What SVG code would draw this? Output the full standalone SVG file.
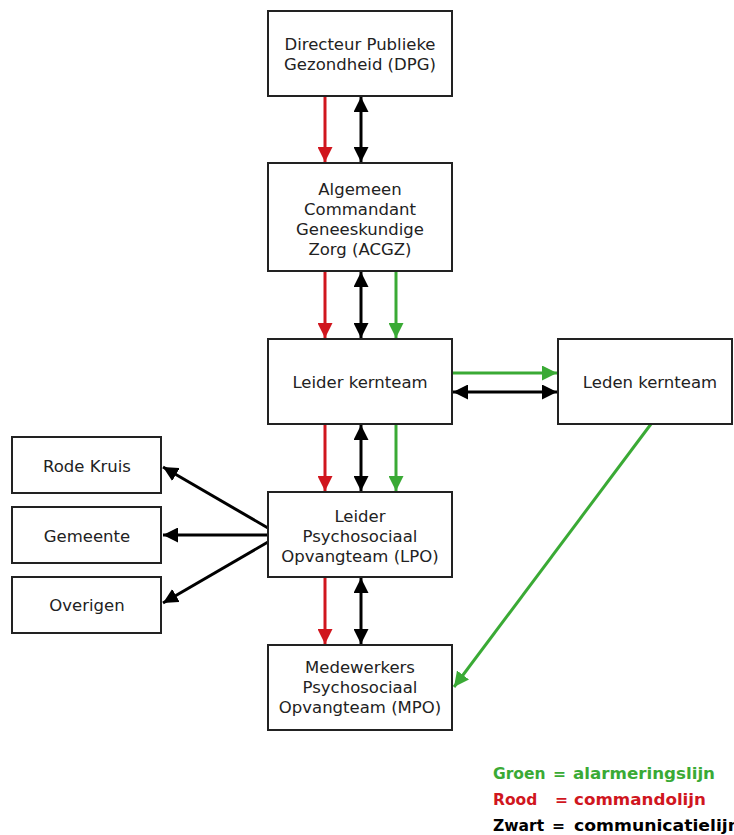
<svg xmlns="http://www.w3.org/2000/svg" width="734" height="835" viewBox="0 0 734 835">
<style>
.box{fill:#fff;stroke:#222;stroke-width:2}
.t{font-family:"DejaVu Sans",Verdana,sans-serif;font-size:16.5px;fill:#222;text-anchor:middle}
.r{stroke:#d0161e;stroke-width:3;fill:none}
.k{stroke:#000;stroke-width:3;fill:none}
.g{stroke:#3aaa35;stroke-width:3;fill:none}
.lg{font-family:"DejaVu Sans",Verdana,sans-serif;font-size:15.5px;font-weight:bold}
</style>
<defs>
<marker id="ar" viewBox="0 0 10 10" refX="10" refY="5" markerWidth="5" markerHeight="5" markerUnits="strokeWidth" orient="auto-start-reverse"><path d="M0,0L10,5L0,10z" fill="#d0161e"/></marker>
<marker id="ak" viewBox="0 0 10 10" refX="10" refY="5" markerWidth="5" markerHeight="5" markerUnits="strokeWidth" orient="auto-start-reverse"><path d="M0,0L10,5L0,10z" fill="#000"/></marker>
<marker id="ag" viewBox="0 0 10 10" refX="10" refY="5" markerWidth="5" markerHeight="5" markerUnits="strokeWidth" orient="auto-start-reverse"><path d="M0,0L10,5L0,10z" fill="#3aaa35"/></marker>
</defs>
<g id="connectors">
<line class="r" x1="325" y1="97" x2="325" y2="162" marker-end="url(#ar)"/>
<line class="k" x1="361" y1="97" x2="361" y2="162" marker-start="url(#ak)" marker-end="url(#ak)"/>
<line class="r" x1="325" y1="272" x2="325" y2="338" marker-end="url(#ar)"/>
<line class="k" x1="361" y1="272" x2="361" y2="338" marker-start="url(#ak)" marker-end="url(#ak)"/>
<line class="g" x1="396" y1="272" x2="396" y2="338" marker-end="url(#ag)"/>
<line class="g" x1="453" y1="373" x2="557" y2="373" marker-end="url(#ag)"/>
<line class="k" x1="453" y1="392" x2="557" y2="392" marker-start="url(#ak)" marker-end="url(#ak)"/>
<line class="r" x1="325" y1="425" x2="325" y2="491" marker-end="url(#ar)"/>
<line class="k" x1="361" y1="425" x2="361" y2="491" marker-start="url(#ak)" marker-end="url(#ak)"/>
<line class="g" x1="396" y1="425" x2="396" y2="491" marker-end="url(#ag)"/>
<line class="r" x1="325" y1="578" x2="325" y2="644" marker-end="url(#ar)"/>
<line class="k" x1="361" y1="578" x2="361" y2="644" marker-start="url(#ak)" marker-end="url(#ak)"/>
<line class="k" x1="268" y1="528" x2="163" y2="467" marker-end="url(#ak)"/>
<line class="k" x1="268" y1="535" x2="163" y2="535" marker-end="url(#ak)"/>
<line class="k" x1="268" y1="542" x2="163" y2="603" marker-end="url(#ak)"/>
<line class="g" x1="651" y1="424" x2="454" y2="687" marker-end="url(#ag)"/>
</g>
<g id="dpg"><rect class="box" x="268" y="11" width="184" height="85"/>
<text class="t" x="360" y="50">Directeur Publieke</text><text class="t" x="360" y="70">Gezondheid (DPG)</text></g>
<g id="acgz"><rect class="box" x="268" y="163" width="184" height="108"/>
<text class="t" x="360" y="195">Algemeen</text><text class="t" x="360" y="215">Commandant</text><text class="t" x="360" y="235">Geneeskundige</text><text class="t" x="360" y="255">Zorg (ACGZ)</text></g>
<g id="leider-kernteam"><rect class="box" x="268" y="339" width="184" height="85"/>
<text class="t" x="360" y="388">Leider kernteam</text></g>
<g id="leden-kernteam"><rect class="box" x="558" y="339" width="174" height="85"/>
<text class="t" x="650" y="388">Leden kernteam</text></g>
<g id="lpo"><rect class="box" x="268" y="492" width="184" height="85"/>
<text class="t" x="360" y="522">Leider</text><text class="t" x="360" y="542">Psychosociaal</text><text class="t" x="360" y="562">Opvangteam (LPO)</text></g>
<g id="mpo"><rect class="box" x="268" y="645" width="184" height="85"/>
<text class="t" x="360" y="673">Medewerkers</text><text class="t" x="360" y="693">Psychosociaal</text><text class="t" x="360" y="713">Opvangteam (MPO)</text></g>
<g id="rode-kruis"><rect class="box" x="12" y="437" width="149" height="56"/>
<text class="t" x="87" y="472">Rode Kruis</text></g>
<g id="gemeente"><rect class="box" x="12" y="507" width="149" height="56"/>
<text class="t" x="87" y="542">Gemeente</text></g>
<g id="overigen"><rect class="box" x="12" y="577" width="149" height="56"/>
<text class="t" x="87" y="611">Overigen</text></g>
<g id="legend">
<text class="lg" x="493" y="779" fill="#3aaa35">Groen</text><text class="lg" x="553" y="779" fill="#3aaa35">=</text><text class="lg" x="573" y="779" fill="#3aaa35" textLength="142" lengthAdjust="spacingAndGlyphs">alarmeringslijn</text>
<text class="lg" x="493" y="805" fill="#d0161e">Rood</text><text class="lg" x="555" y="805" fill="#d0161e">=</text><text class="lg" x="574" y="805" fill="#d0161e" textLength="132" lengthAdjust="spacingAndGlyphs">commandolijn</text>
<text class="lg" x="493" y="831" fill="#000">Zwart</text><text class="lg" x="552" y="831" fill="#000">=</text><text class="lg" x="574" y="831" fill="#000" textLength="166" lengthAdjust="spacingAndGlyphs">communicatielijn</text>
</g>
</svg>
